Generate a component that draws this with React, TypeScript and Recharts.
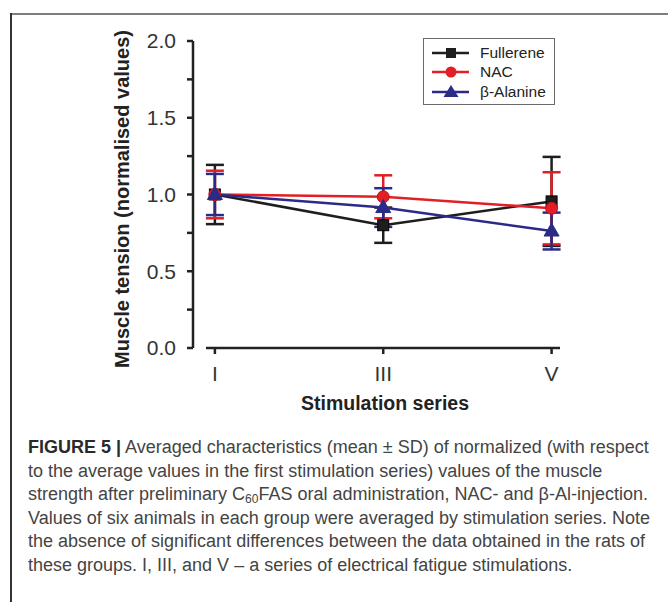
import React from "react";
import {
  LineChart,
  Line,
  XAxis,
  YAxis,
  ErrorBar,
  ReferenceLine,
} from "recharts";

// stimulation series (numeric positions 1..3 shown as I, III, V)
const seriesPos = [1, 2, 3];
const seriesLabels = ["I", "III", "V"];

const fullerene = [1.0, 0.8, 0.955];
const fullereneSd = [0.193, 0.115, 0.29];
const nac = [1.0, 0.985, 0.91];
const nacSd = [0.155, 0.14, 0.235];
const alanine = [1.0, 0.915, 0.762];
const alanineSd = [0.134, 0.126, 0.12];

const yTicks = [0, 0.25, 0.5, 0.75, 1, 1.25, 1.5, 1.75, 2];

const BLACK = "#1e1e1e";
const RED = "#e21f26";
const BLUE = "#2c2a88";
const AXIS = "#222";
const FONT = "'Liberation Sans', Arial, sans-serif";

const data = seriesPos.map((x, i) => ({
  x,
  fullerene: fullerene[i],
  fullereneSd: fullereneSd[i],
  nac: nac[i],
  nacSd: nacSd[i],
  alanine: alanine[i],
  alanineSd: alanineSd[i],
}));

const legendItems = [
  { name: "Fullerene", color: BLACK, shape: "square" },
  { name: "NAC", color: RED, shape: "circle" },
  { name: "\u03b2-Alanine", color: BLUE, shape: "triangle" },
];

const SquareDot = (props: any) => {
  const { cx, cy } = props;
  if (cx == null || cy == null) return null;
  return (
    <rect x={cx - 5.5} y={cy - 5.5} width={11} height={11} fill={BLACK} stroke="#000" strokeWidth={1} />
  );
};

const CircleDot = (props: any) => {
  const { cx, cy } = props;
  if (cx == null || cy == null) return null;
  return <circle cx={cx} cy={cy} r={6} fill={RED} stroke="#c0151b" strokeWidth={1} />;
};

const TriangleDot = (props: any) => {
  const { cx, cy } = props;
  if (cx == null || cy == null) return null;
  return (
    <polygon
      points={`${cx},${cy - 8} ${cx - 7.5},${cy + 5} ${cx + 7.5},${cy + 5}`}
      fill={BLUE}
      stroke={BLUE}
      strokeWidth={1}
    />
  );
};

const LegendBox = () => (
  <div
    style={{
      position: "absolute",
      left: 423,
      top: 38,
      border: "1.5px solid #6a6a6a",
      width: 132,
      height: 67,
      boxSizing: "border-box",
      paddingTop: 4,
      fontFamily: FONT,
      background: "#fff",
    }}
  >
    {legendItems.map((it) => (
      <div key={it.name} style={{ display: "flex", alignItems: "center", height: 19.5 }}>
        <svg width={56} height={18} style={{ display: "block" }}>
          <line x1={8} x2={45} y1={9} y2={9} stroke={it.color} strokeWidth={2.5} />
          {it.shape === "square" && <rect x={22} y={4} width={10} height={10} fill={it.color} />}
          {it.shape === "circle" && <circle cx={27} cy={9} r={5.5} fill={it.color} />}
          {it.shape === "triangle" && (
            <polygon points="27,2 19.5,14 34.5,14" fill={it.color} />
          )}
        </svg>
        <span style={{ fontSize: 15.5, color: "#222", lineHeight: "18px" }}>{it.name}</span>
      </div>
    ))}
  </div>
);

const captionStyle: React.CSSProperties = {
  whiteSpace: "nowrap",
  height: 23.5,
  lineHeight: "23.5px",
};

const App = () => {
  return (
    <div
      style={{
        position: "absolute",
        left: 0,
        top: 0,
        width: 668,
        height: 602,
        background: "#fff",
        fontFamily: FONT,
        overflow: "hidden",
      }}
    >
      {/* frame lines */}
      <div style={{ position: "absolute", left: 11, top: 13, width: 657, height: 2, background: "#7d7d7d" }} />
      <div style={{ position: "absolute", left: 10, top: 13, width: 1.5, height: 589, background: "#333" }} />

      <div style={{ position: "absolute", left: 0, top: 0 }}>
        <LineChart
          width={668}
          height={430}
          data={data}
          margin={{ top: 41, right: 108, bottom: 0, left: 0 }}
          style={{ fontFamily: FONT }}
        >
          <XAxis
            dataKey="x"
            type="number"
            domain={[0.87, 3.05]}
            ticks={seriesPos}
            allowDataOverflow
            height={82}
            axisLine={false}
            tickLine={{ stroke: AXIS, strokeWidth: 2.5 }}
            tickSize={6}
            tickMargin={12}
            tick={{ fontSize: 21, fill: "#333" }}
            tickFormatter={(v: number) => seriesLabels[seriesPos.indexOf(v)] ?? ""}
            label={{
              content: () => (
                <text
                  x={385}
                  y={410}
                  textAnchor="middle"
                  fontSize={19.5}
                  fontWeight="bold"
                  fill="#222"
                >
                  Stimulation series
                </text>
              ),
            }}
          />
          <YAxis
            type="number"
            domain={[0, 2]}
            ticks={yTicks}
            interval={0}
            width={193}
            axisLine={{ stroke: AXIS, strokeWidth: 2.5 }}
            tickLine={{ stroke: AXIS, strokeWidth: 2.5 }}
            tickSize={6}
            tickMargin={11}
            tick={{ fontSize: 21, fill: "#333" }}
            tickFormatter={(v: number) => (Math.abs(v * 2 - Math.round(v * 2)) < 1e-6 ? v.toFixed(1) : "")}
            label={{
              content: () => (
                <text
                  x={129}
                  y={199}
                  transform="rotate(-90 129 199)"
                  textAnchor="middle"
                  fontSize={20}
                  fontWeight="bold"
                  fill="#222"
                >
                  Muscle tension (normalised values)
                </text>
              ),
            }}
          />
          <ReferenceLine
            segment={[
              { x: 0.947, y: 0 },
              { x: 3.05, y: 0 },
            ]}
            stroke={AXIS}
            strokeWidth={2.5}
            ifOverflow="visible"
          />
          <Line
            dataKey="fullerene"
            stroke={BLACK}
            strokeWidth={2.5}
            dot={<SquareDot />}
            activeDot={false}
            isAnimationActive={false}
          >
            <ErrorBar dataKey="fullereneSd" direction="y" width={9} stroke={BLACK} strokeWidth={2.5} />
          </Line>
          <Line
            dataKey="nac"
            stroke={RED}
            strokeWidth={2.5}
            dot={<CircleDot />}
            activeDot={false}
            isAnimationActive={false}
          >
            <ErrorBar dataKey="nacSd" direction="y" width={9} stroke={RED} strokeWidth={2.5} />
          </Line>
          <Line
            dataKey="alanine"
            stroke={BLUE}
            strokeWidth={2.5}
            dot={<TriangleDot />}
            activeDot={false}
            isAnimationActive={false}
          >
            <ErrorBar dataKey="alanineSd" direction="y" width={9} stroke={BLUE} strokeWidth={2.5} />
          </Line>
        </LineChart>
      </div>

      <LegendBox />

      {/* caption */}
      <div
        style={{
          position: "absolute",
          left: 28,
          top: 436,
          fontSize: 18,
          color: "#444",
        }}
      >
        <div style={captionStyle}>
          <b style={{ color: "#2a2a2a" }}>FIGURE 5 |</b> Averaged characteristics (mean {"\u00b1"} SD) of normalized (with respect
        </div>
        <div style={captionStyle}>
          to the average values in the first stimulation series) values of the muscle
        </div>
        <div style={captionStyle}>
          strength after preliminary C<sub style={{ fontSize: 12, verticalAlign: "-3px", lineHeight: 0 }}>60</sub>FAS oral administration, NAC- and {"\u03b2"}-Al-injection.
        </div>
        <div style={captionStyle}>
          Values of six animals in each group were averaged by stimulation series. Note
        </div>
        <div style={captionStyle}>
          the absence of significant differences between the data obtained in the rats of
        </div>
        <div style={captionStyle}>
          these groups. I, III, and V {"\u2013"} a series of electrical fatigue stimulations.
        </div>
      </div>
    </div>
  );
};

export default App;
